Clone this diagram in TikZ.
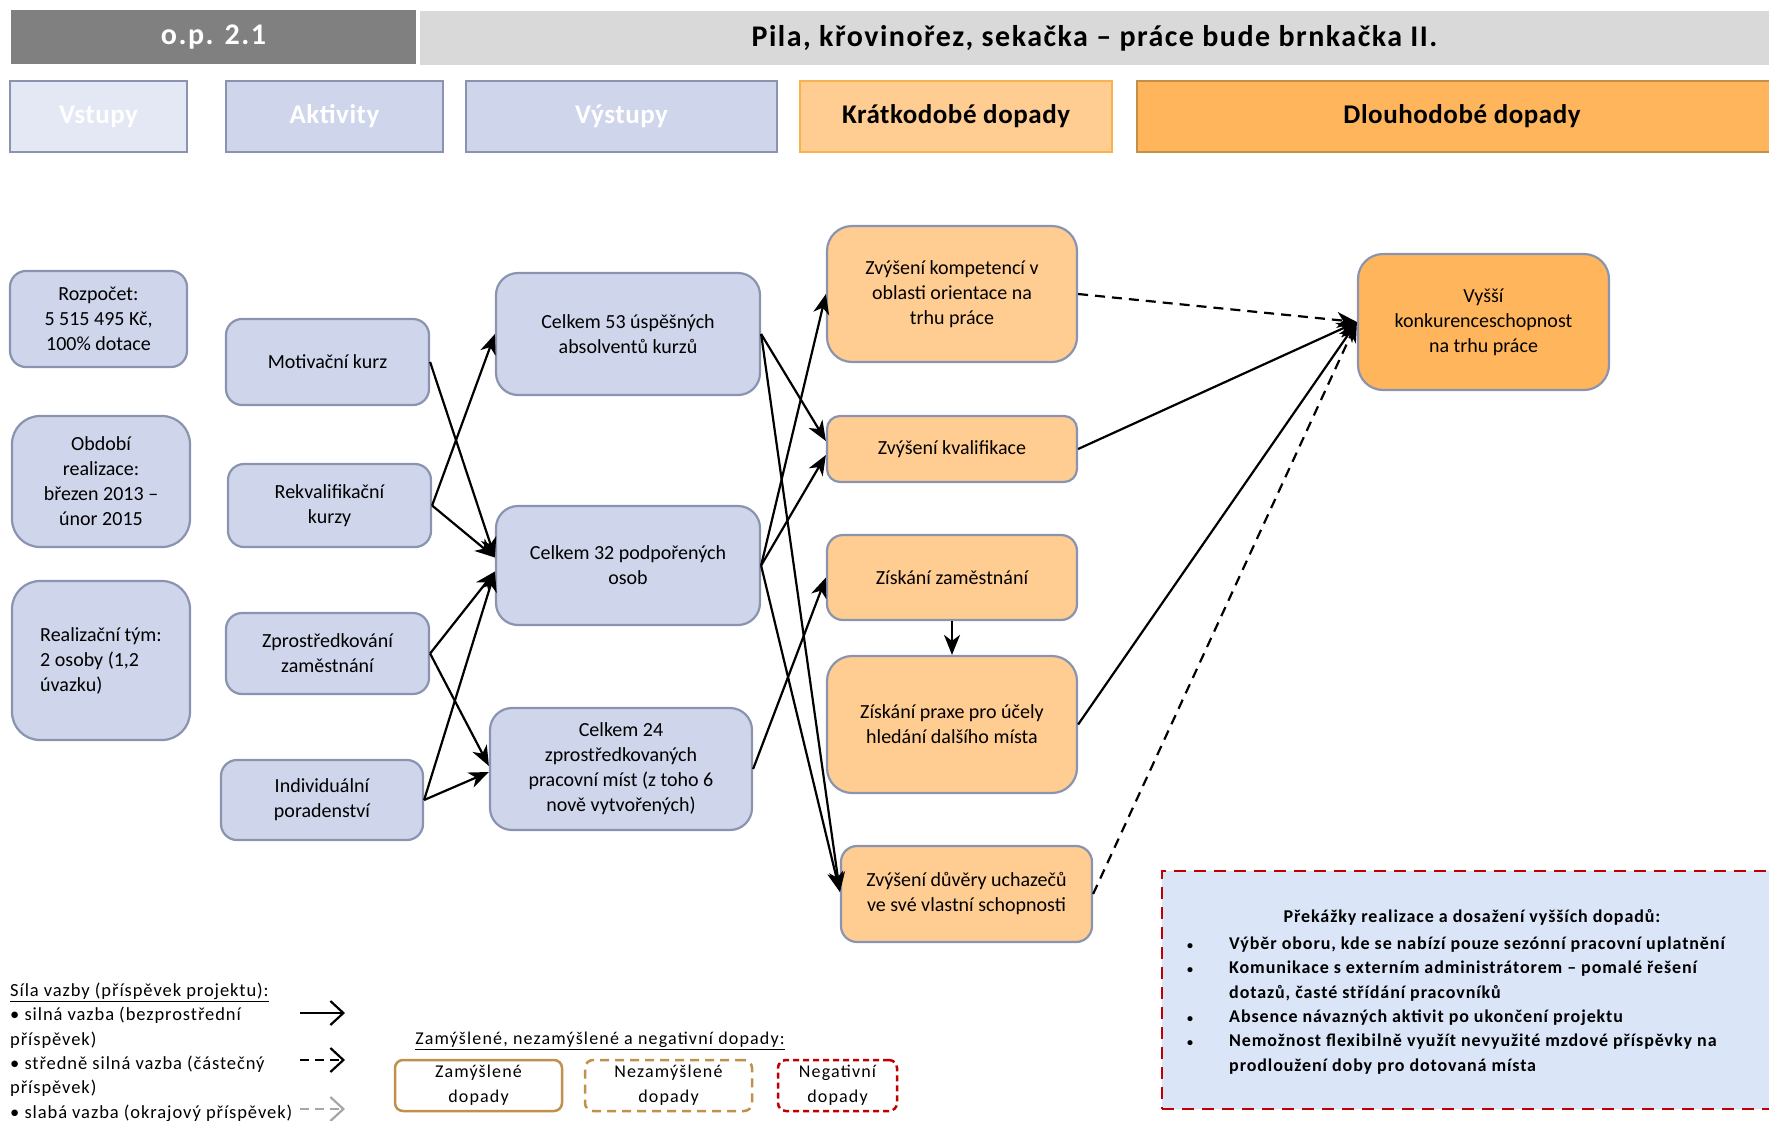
\documentclass[tikz,border=0pt]{standalone}
\usepackage{fontspec}
\setmainfont{Carlito}
\newfontfamily\titlefont{Carlito}[LetterSpace=5]
\newfontfamily\headfont{Carlito}[LetterSpace=2]
\newfontfamily\spreadfont{Carlito}[LetterSpace=5]
\newfontfamily\widefont{Carlito}[LetterSpace=6.5]
\usepackage{xcolor}
\definecolor{boxblue}{HTML}{CFD5EA}
\definecolor{headlight}{HTML}{E4E8F4}
\definecolor{boxborder}{HTML}{8A94B0}
\definecolor{shortorange}{HTML}{FFCC91}
\definecolor{longorange}{HTML}{FFB55B}
\definecolor{shortedge}{HTML}{F5B352}
\definecolor{longedge}{HTML}{C49048}
\definecolor{topgrey}{HTML}{808080}
\definecolor{titlegrey}{HTML}{D9D9D9}
\definecolor{barrierfill}{HTML}{DAE5F8}
\definecolor{negred}{HTML}{C00000}
\definecolor{intentbrown}{HTML}{C0914C}
\usetikzlibrary{arrows.meta, positioning, calc}

\begin{document}
\begin{tikzpicture}[x=1pt, y=-1pt,
    font=\fontsize{20}{25}\selectfont,
    bluebox/.style={draw=boxborder, line width=2.2pt, fill=boxblue, rounded corners=16pt, align=center, inner sep=0pt},
    orangebox/.style={bluebox, fill=shortorange},
    headbox/.style={draw=boxborder, line width=2.2pt, inner sep=0pt, minimum height=71pt, font=\headfont\fontsize{27}{32}\selectfont\bfseries},
    topbox/.style={minimum height=54pt, inner sep=0pt, font=\titlefont\fontsize{30}{34}\selectfont\bfseries},
    link/.style={line width=2.2pt, -{Stealth[length=20pt, width=16pt, inset=6pt]}},
    halflink/.style={link, dash pattern=on 10pt off 7pt},
    legendtext/.style={inner sep=0pt, align=left, font=\spreadfont\fontsize{18.5}{24.4}\selectfont},
    legendarrow/.style={line width=2.2pt, -{Straight Barb[length=13pt, width=24pt]}},
    kindbox/.style={draw=intentbrown, line width=2.5pt, fill=white, rounded corners=8pt, minimum width=167pt, minimum height=51pt, inner sep=0pt, align=center, font=\widefont\fontsize{18}{25}\selectfont}]
    \useasboundingbox (0,0) rectangle (1769,1120);

    % title bar
    \node[topbox, fill=topgrey, minimum width=405pt, text=white] (opnum) at (213.5,37) {o.p. 2.1};
    \node[topbox, fill=titlegrey, minimum width=1349pt] (projtitle) at (1094.5,38) {Pila, křovinořez, sekačka – práce bude brnkačka II.};

    % column heads
    \node[headbox, fill=headlight, text=white, minimum width=177pt] (hVstupy) at (98.5,116.5) {Vstupy};
    \node[headbox, fill=boxblue, text=white, minimum width=217pt] (hAktivity) at (334.5,116.5) {Aktivity};
    \node[headbox, fill=boxblue, text=white, minimum width=311pt] (hVystupy) at (621.5,116.5) {Výstupy};
    \node[headbox, draw=shortedge, fill=shortorange, minimum width=312pt] (hKratko) at (956,116.5) {Krátkodobé dopady};
    \node[headbox, draw=longedge, fill=longorange, minimum width=650pt] (hDlouho) at (1462,116.5) {Dlouhodobé dopady};

    % inputs
    \node[bluebox, minimum width=177pt, minimum height=96pt] (rozpocet) at (98.5,319) {Rozpočet:\\5 515 495 Kč,\\100\% dotace};
    \node[bluebox, rounded corners=28pt, minimum width=178pt, minimum height=131pt] (obdobi) at (101,481.5) {Období\\realizace:\\březen 2013 –\\únor 2015};
    \node[bluebox, rounded corners=28pt, minimum width=178pt, minimum height=159pt, align=left] (tym) at (101,660.5) {Realizační tým:\\2 osoby (1,2\\úvazku)};

    % activities
    \node[bluebox, minimum width=203pt, minimum height=86pt] (motiv) at (327.5,362) {Motivační kurz};
    \node[bluebox, minimum width=203pt, minimum height=83pt] (rekval) at (329.5,505.5) {Rekvalifikační\\kurzy};
    \node[bluebox, minimum width=203pt, minimum height=81pt] (zprost) at (327.5,653.5) {Zprostředkování\\zaměstnání};
    \node[bluebox, minimum width=202pt, minimum height=80pt] (indiv) at (322,800) {Individuální\\poradenství};

    % outputs
    \node[bluebox, rounded corners=22pt, minimum width=264pt, minimum height=122pt] (c53) at (628,334) {Celkem 53 úspěšných\\absolventů kurzů};
    \node[bluebox, rounded corners=22pt, minimum width=264pt, minimum height=119pt] (c32) at (628,565.5) {Celkem 32 podpořených\\osob};
    \node[bluebox, rounded corners=22pt, minimum width=262pt, minimum height=122pt] (c24) at (621,769) {Celkem 24\\zprostředkovaných\\pracovní míst (z toho 6\\nově vytvořených)};

    % short-term outcomes
    \node[orangebox, rounded corners=25pt, minimum width=250pt, minimum height=136pt] (kompet) at (952,294) {Zvýšení kompetencí v\\oblasti orientace na\\trhu práce};
    \node[orangebox, rounded corners=13pt, minimum width=250pt, minimum height=66pt] (kvalif) at (952,449) {Zvýšení kvalifikace};
    \node[orangebox, minimum width=250pt, minimum height=85pt] (zamest) at (952,577.5) {Získání zaměstnání};
    \node[orangebox, rounded corners=25pt, minimum width=250pt, minimum height=137pt] (praxe) at (952,724.5) {Získání praxe pro účely\\hledání dalšího místa};
    \node[orangebox, minimum width=251pt, minimum height=96pt] (duvera) at (966.5,894) {Zvýšení důvěry uchazečů\\ve své vlastní schopnosti};

    % long-term outcome
    \node[bluebox, fill=longorange, rounded corners=25pt, minimum width=251pt, minimum height=136pt] (vyssi) at (1483.5,322) {Vyšší\\konkurenceschopnost\\na trhu práce};

    % activities -> outputs
    \draw[link] (motiv.east) -- ([yshift=8pt]c32.west);
    \draw[link] (rekval.east) -- (c53.west);
    \draw[link] (rekval.east) -- ([yshift=8pt]c32.west);
    \draw[link] (zprost.east) -- ([yshift=-6pt]c32.west);
    \draw[link] (zprost.east) -- ([yshift=3pt]c24.west);
    \draw[link] (indiv.east) -- ([yshift=-6pt]c32.west);
    \draw[link] (indiv.east) -- ([yshift=-3pt]c24.west);

    % outputs -> short-term
    \draw[link] (c53.east) -- ([yshift=8pt]kvalif.west);
    \draw[link] (c53.east) -- ([yshift=2pt]duvera.west);
    \draw[link] (c32.east) -- (kompet.west);
    \draw[link] (c32.east) -- ([yshift=-6pt]kvalif.west);
    \draw[link] (c32.east) -- ([yshift=2pt]duvera.west);
    \draw[link] (c24.east) -- (zamest.west);
    \draw[link] (zamest.south) -- (praxe.north);

    % short-term -> long-term
    \draw[halflink] (kompet.east) -- (vyssi.west);
    \draw[link] (kvalif.east) -- (vyssi.west);
    \draw[link] (praxe.east) -- (vyssi.west);
    \draw[halflink] (duvera.east) -- (vyssi.west);

    % barriers
    \node[draw=negred, fill=barrierfill, line width=2.5pt, dash pattern=on 12pt off 8pt, minimum width=623pt, minimum height=238pt, inner sep=0pt] (prekazky) at (1473.5,990) {};
    \node[inner sep=0pt, font=\spreadfont\fontsize{18}{24}\selectfont\bfseries] (prekTitle) at (1472,917) {Překážky realizace a dosažení vyšších dopadů:};
    \node[inner sep=0pt, anchor=north west, align=left, font=\spreadfont\fontsize{18}{24.4}\selectfont\bfseries] (prekList) at (1187,936.5)
        {\makebox[42pt][l]{\fontsize{12}{12}\selectfont•}Výběr oboru, kde se nabízí pouze sezónní pracovní uplatnění\\
         \makebox[42pt][l]{\fontsize{12}{12}\selectfont•}Komunikace s externím administrátorem – pomalé řešení\\
         \hspace*{42pt}dotazů, časté střídání pracovníků\\
         \makebox[42pt][l]{\fontsize{12}{12}\selectfont•}Absence návazných aktivit po ukončení projektu\\
         \makebox[42pt][l]{\fontsize{12}{12}\selectfont•}Nemožnost flexibilně využít nevyužité mzdové příspěvky na\\
         \hspace*{42pt}prodloužení doby pro dotovaná místa};

    % legend: link strength
    \node[legendtext, anchor=north west] (silaLeg) at (10,982.5) {\underline{Síla vazby (příspěvek projektu):}\\• silná vazba (bezprostřední\\příspěvek)\\• středně silná vazba (částečný\\příspěvek)\\• slabá vazba (okrajový příspěvek)};
    \coordinate (strongA) at (300,1013);
    \coordinate (strongB) at (345,1013);
    \coordinate (mediumA) at (300,1060);
    \coordinate (mediumB) at (345,1060);
    \coordinate (weakA) at (300,1109);
    \coordinate (weakB) at (345,1109);
    \draw[legendarrow] (strongA) -- (strongB);
    \draw[legendarrow, dash pattern=on 9pt off 6pt] (mediumA) -- (mediumB);
    \draw[legendarrow, gray!70, dash pattern=on 9pt off 6pt] (weakA) -- (weakB);

    % legend: kinds of outcomes
    \node[inner sep=0pt, font=\widefont\fontsize{18}{24}\selectfont] (druhLeg) at (600,1040.5) {\underline{Zamýšlené, nezamýšlené a negativní dopady:}};
    \node[kindbox] (zamysl) at (478.5,1085.5) {Zamýšlené\\dopady};
    \node[kindbox, dash pattern=on 9pt off 6pt] (nezamysl) at (668.5,1085.5) {Nezamýšlené\\dopady};
    \node[kindbox, draw=negred, minimum width=119pt, dash pattern=on 6pt off 4pt] (negat) at (837.5,1085.5) {Negativní\\dopady};
\end{tikzpicture}
\end{document}
